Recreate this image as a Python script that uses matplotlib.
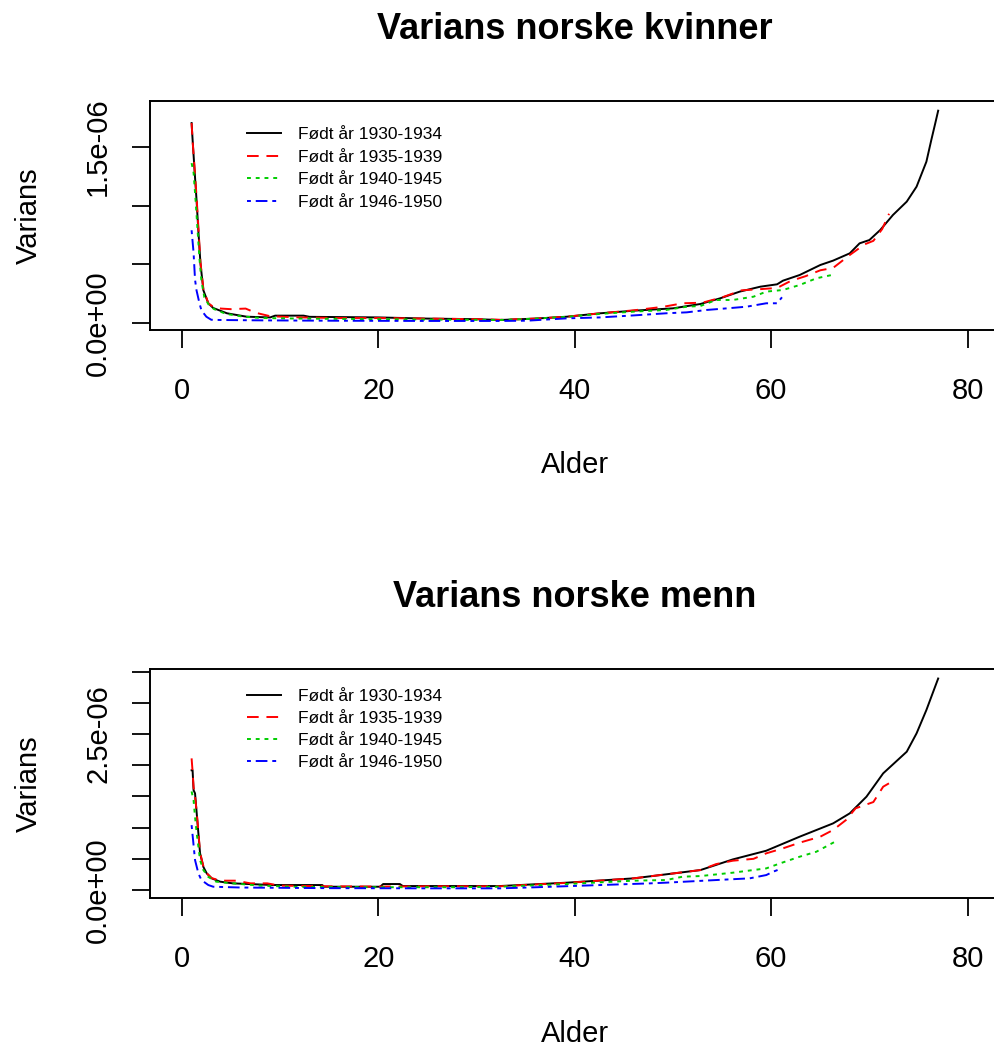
import matplotlib.pyplot as plt
import numpy as np

plt.rcParams['font.family'] = ['Liberation Sans', 'DejaVu Sans']

labels = ['Født år 1930-1934', 'Født år 1935-1939', 'Født år 1940-1945', 'Født år 1946-1950']
colors = ['black', '#FF0000', '#00CD00', '#0000FF']
dash_styles = [None, (6, 4), (2, 2.5), (2, 2.5, 6, 2.5)]

# kvinner (values in 1e-6)
k_age_1930 = [1, 1.1, 1.3, 1.5, 1.7, 1.9, 2.2, 2.7, 3.2, 4.6, 6.6, 9, 9.5, 12.4, 13, 20, 25, 30,
              32.4, 36, 39.2, 42.6, 46.0, 50.0, 52.8, 54.8, 56.8, 58.9, 60.6, 61.2, 62.9, 65.0,
              66.3, 68.0, 69.0, 70.0, 71.1, 72.4, 73.8, 74.8, 75.8, 76.3, 76.7, 77.0]
k_val_1930 = [1.70, 1.56, 1.30, 1.05, 0.77, 0.51, 0.28, 0.17, 0.13, 0.085, 0.056, 0.05, 0.065, 0.065,
              0.055, 0.05, 0.04, 0.035, 0.028, 0.04, 0.056, 0.085, 0.107, 0.127, 0.164, 0.212, 0.269,
              0.311, 0.331, 0.362, 0.41, 0.495, 0.532, 0.594, 0.679, 0.707, 0.792, 0.92, 1.033, 1.16,
              1.372, 1.556, 1.697, 1.805]
k_age_1935 = [1, 1.1, 1.3, 1.5, 1.7, 1.9, 2.2, 2.7, 3.2, 4, 5, 6.5, 7.5, 9, 12, 16, 20, 25, 30, 32.4,
              36, 39.2, 42.6, 46, 49, 51, 53, 55, 57, 58.9, 60.6, 62, 63.5, 65, 66.3, 68, 69.5, 70.4,
              71.3, 72]
k_val_1935 = [1.70, 1.55, 1.32, 1.08, 0.80, 0.52, 0.29, 0.17, 0.14, 0.125, 0.12, 0.125, 0.09, 0.06,
              0.05, 0.045, 0.045, 0.04, 0.035, 0.03, 0.04, 0.056, 0.085, 0.11, 0.14, 0.17, 0.175, 0.22,
              0.28, 0.29, 0.30, 0.36, 0.40, 0.45, 0.47, 0.58, 0.67, 0.70, 0.80, 0.93]
k_age_1940 = [1, 1.2, 1.4, 1.6, 1.8, 2.0, 2.3, 2.8, 3.3, 4.5, 6, 8, 12, 20, 28, 32.4, 36, 39.2, 42.6,
              46, 49.3, 51.4, 52.8, 54.4, 56.1, 58.2, 59.5, 61.2, 62.9, 64.6, 66.5]
k_val_1940 = [1.36, 1.28, 1.05, 0.80, 0.55, 0.36, 0.22, 0.15, 0.12, 0.08, 0.06, 0.045, 0.04, 0.035,
              0.03, 0.028, 0.04, 0.055, 0.08, 0.099, 0.113, 0.141, 0.147, 0.198, 0.198, 0.226, 0.269,
              0.283, 0.325, 0.382, 0.416]
k_age_1946 = [1, 1.2, 1.35, 1.5, 1.8, 2.0, 2.5, 3.0, 4, 8, 15, 25, 32.4, 35.1, 39.2, 42.6, 46, 49.3,
              51.4, 53.4, 55.5, 57.5, 59.5, 60.6, 61.1]
k_val_1946 = [0.79, 0.6, 0.37, 0.28, 0.17, 0.11, 0.056, 0.03, 0.028, 0.025, 0.022, 0.02, 0.02, 0.022,
              0.042, 0.05, 0.067, 0.085, 0.093, 0.113, 0.127, 0.141, 0.17, 0.17, 0.221]

# menn (values in 1e-6)
m_age_1930 = [1, 1.1, 1.2, 1.35, 1.52, 1.69, 1.86, 2.03, 2.2, 2.54, 3.05, 3.9, 5.2, 9.3, 9.8, 14.3,
              14.5, 20.2, 20.5, 22.2, 22.5, 28, 32.4, 39.2, 46.0, 52.8, 56.1, 59.5, 62.9, 66.3, 68.0,
              69.7, 71.4, 73.8, 74.8, 75.8, 76.5, 77.0]
m_val_1930 = [1.92, 1.92, 1.6, 1.55, 1.23, 0.91, 0.59, 0.48, 0.37, 0.267, 0.187, 0.134, 0.107, 0.08,
              0.08, 0.08, 0.053, 0.053, 0.096, 0.096, 0.064, 0.064, 0.064, 0.118, 0.187, 0.32, 0.491,
              0.63, 0.855, 1.068, 1.229, 1.496, 1.87, 2.217, 2.511, 2.885, 3.18, 3.39]
m_age_1935 = [1, 1.1, 1.2, 1.35, 1.52, 1.69, 1.86, 2.03, 2.2, 2.54, 3.05, 4, 5.5, 7, 8.7, 10, 15, 20,
              25, 32.4, 39.2, 46.0, 52.8, 54.4, 56.1, 58.2, 59.5, 61.2, 62.9, 65.0, 66.3, 67.6, 68.6,
              70.4, 71.4, 72.1]
m_val_1935 = [2.11, 1.9, 1.65, 1.5, 1.25, 0.93, 0.6, 0.49, 0.38, 0.27, 0.19, 0.15, 0.15, 0.107, 0.107,
              0.07, 0.06, 0.055, 0.06, 0.06, 0.115, 0.187, 0.32, 0.416, 0.47, 0.5, 0.588, 0.668, 0.759,
              0.855, 0.962, 1.12, 1.31, 1.41, 1.656, 1.72]
m_age_1940 = [1, 1.2, 1.35, 1.52, 1.69, 1.86, 2.2, 2.7, 3.5, 5.2, 8, 12, 20, 28, 32.4, 39.2, 46.0,
              49.3, 51.0, 52.8, 56.1, 59.5, 60.9, 62.9, 64.6, 66.5]
m_val_1940 = [1.58, 1.44, 1.17, 0.91, 0.70, 0.48, 0.32, 0.21, 0.134, 0.107, 0.07, 0.05, 0.045, 0.045,
              0.053, 0.096, 0.15, 0.16, 0.214, 0.224, 0.278, 0.347, 0.427, 0.534, 0.614, 0.775]
m_age_1946 = [1, 1.15, 1.35, 1.69, 2.0, 2.7, 3.2, 6, 15, 25, 32.4, 35.8, 42.6, 47.7, 49.3, 54.4, 57.8,
              59.5, 60.2, 61.1]
m_val_1946 = [1.04, 0.8, 0.48, 0.267, 0.16, 0.08, 0.053, 0.04, 0.03, 0.027, 0.027, 0.043, 0.08, 0.107,
              0.118, 0.16, 0.187, 0.24, 0.294, 0.347]

kvinner = [(k_age_1930, k_val_1930), (k_age_1935, k_val_1935),
           (k_age_1940, k_val_1940), (k_age_1946, k_val_1946)]
menn = [(m_age_1930, m_val_1930), (m_age_1935, m_val_1935),
        (m_age_1940, m_val_1940), (m_age_1946, m_val_1946)]

k_yticks = [0, 0.5e-6, 1.0e-6, 1.5e-6]
k_ylabels = ['0.0e+00', '', '', '1.5e-06']
m_yticks = [0, 0.5e-6, 1.0e-6, 1.5e-6, 2.0e-6, 2.5e-6, 3.0e-6, 3.5e-6]
m_ylabels = ['0.0e+00', '', '', '', '', '2.5e-06', '', '']


def panel(ax, series, title, yticks, ylabels, ylim, leg_y, leg_sp):
    for (age, val), col, dash, lab in zip(series, colors, dash_styles, labels):
        line, = ax.plot(age, np.array(val) * 1e-6, color=col, lw=1.4, label=lab)
        if dash is not None:
            line.set_dashes(dash)
    ax.set_xlim(-3.2, 83.2)
    ax.set_ylim(*ylim)
    ax.set_xticks([0, 20, 40, 60, 80])
    ax.set_yticks(yticks, ylabels)
    for s in ['left', 'bottom', 'top', 'right']:
        ax.spines[s].set_linewidth(1.4)
    ax.tick_params(axis='both', length=13, width=1.3, labelsize=21)
    ax.tick_params(axis='x', pad=20.5)
    ax.tick_params(axis='y', pad=14.5, labelrotation=90)
    for t in ax.get_yticklabels():
        t.set_va('center')
    ax.set_title(title, fontsize=26, fontweight='bold', pad=45)
    ax.set_xlabel('Alder', fontsize=21)
    ax.xaxis.set_label_coords(0.5, -0.53)
    ax.set_ylabel('Varians', fontsize=21)
    ax.yaxis.set_label_coords(-0.1264, 0.5)
    ax.legend(loc='upper left', bbox_to_anchor=(0.1136, leg_y), frameon=False, fontsize=12.5,
              handlelength=2.0, handletextpad=0.95, labelspacing=leg_sp, borderpad=0, borderaxespad=0)


fig = plt.figure(figsize=(9.95, 10.47), dpi=100)
ax1 = fig.add_axes([0.1511, 0.6848, 0.853, 0.2187])
ax2 = fig.add_axes([0.1511, 0.142, 0.853, 0.2187])

panel(ax1, kvinner, 'Varians norske kvinner', k_yticks, k_ylabels, (-0.057e-6, 1.887e-6), 0.888, 0.44)
panel(ax2, menn, 'Varians norske menn', m_yticks, m_ylabels, (-0.133e-6, 3.537e-6), 0.915, 0.40)

fig.savefig('out.png', dpi=100)
